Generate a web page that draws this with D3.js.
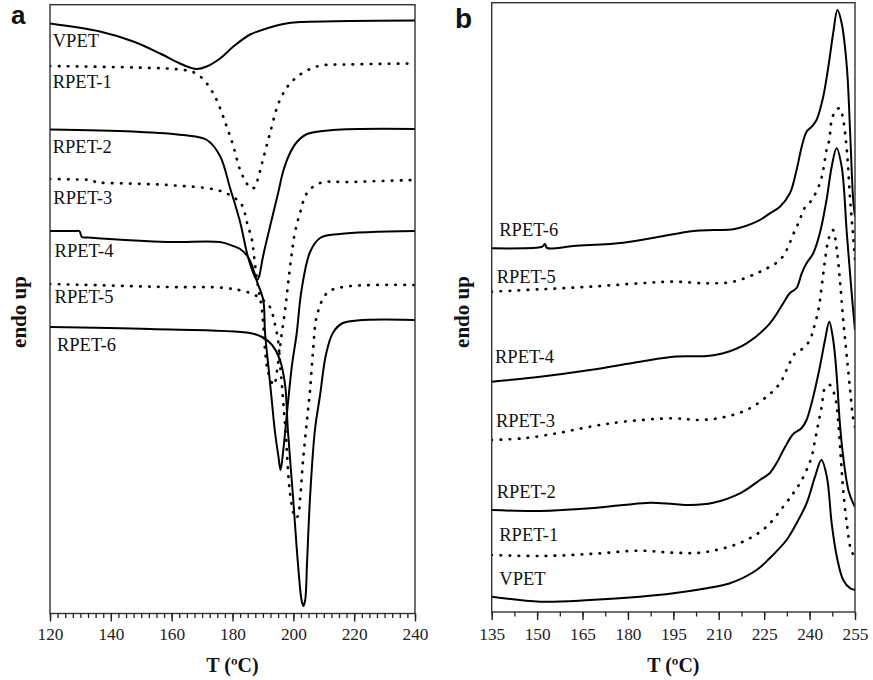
<!DOCTYPE html>
<html><head><meta charset="utf-8">
<script src="https://cdn.jsdelivr.net/npm/d3@7"></script>
<style>
html,body{margin:0;padding:0;background:#fff;}
svg{display:block;}
</style></head>
<body>
<script>
// ---------- DATA (T in °C, heat flow in arbitrary units, endo up) ----------
const seriesNames = ["VPET","RPET-1","RPET-2","RPET-3","RPET-4","RPET-5","RPET-6"];
const seriesDotted = [false,true,false,true,false,true,false];

// Panel a : cooling (crystallisation exotherms)
const a_VPET = [[120,59.0],[136.4,58.2],[147.4,57.2],[156.2,56.0],[162.7,55.0],[166.0,54.6],[168.3,54.45],[171.5,54.7],[175.9,55.5],[180.3,56.7],[185.8,57.9],[191.2,58.5],[196.7,58.95],[202.2,59.15],[218.6,59.25],[240,59.3]];
const a_RPET1 = [[120,54.75],[158.5,54.5],[164.1,54.35],[167.0,54.15],[170.0,53.55],[172.6,52.55],[174.8,51.35],[178.1,48.7],[180.3,46.7],[182.5,44.35],[184.7,43.0],[186.1,42.5],[187.4,42.65],[188.5,43.65],[190.0,45.35],[192.3,48.0],[195.6,51.35],[200.0,53.35],[207.7,54.7],[218.6,54.9],[240,55.0]];
const a_RPET2 = [[120,48.4],[147.3,48.2],[163.7,47.85],[171.6,47.35],[175.9,45.75],[179.2,42.55],[182.5,39.15],[185.1,35.65],[187.4,33.65],[188.1,33.35],[188.7,33.65],[190.0,35.65],[192.3,38.65],[195.0,42.05],[196.6,44.15],[198.6,45.85],[200.9,47.05],[204.5,47.95],[213.0,48.35],[240,48.45]];
const a_RPET3 = [[120,43.45],[132.0,43.38],[134.1,43.35],[135.1,43.1],[137.0,43.07],[158.5,42.85],[174.9,42.35],[180.2,41.65],[183.1,40.85],[184.8,39.05],[186.4,37.35],[187.1,35.65],[188.4,32.65],[189.7,30.35],[190.7,26.35],[191.7,24.15],[193.6,22.85],[194.9,24.85],[195.9,27.35],[197.3,30.35],[198.3,33.05],[199.5,36.05],[200.5,38.05],[202.2,40.05],[204.5,42.05],[208.8,43.05],[218.6,43.15],[240,43.35]];
const a_RPET4 = [[120,38.25],[128.0,38.25],[129.7,38.22],[130.5,37.65],[132.5,37.6],[158.5,37.15],[175.9,37.15],[180.2,36.75],[182.5,36.45],[185.1,35.65],[186.7,34.55],[188.1,33.15],[190.1,31.35],[190.7,28.05],[191.8,24.7],[192.9,21.35],[194.0,18.05],[195.1,15.7],[195.8,14.35],[196.7,16.35],[197.8,19.7],[199.5,24.7],[201.1,28.0],[202.7,32.35],[205.5,36.15],[208.8,37.55],[215.3,37.95],[240,38.25]];
const a_RPET5 = [[120,32.95],[158.5,32.65],[177.5,32.55],[185.8,32.05],[190.0,31.35],[192.3,30.65],[194.0,28.85],[195.1,27.05],[195.6,25.05],[196.2,23.05],[196.7,21.05],[197.3,18.85],[197.8,16.65],[198.3,14.05],[198.9,12.05],[200.0,10.05],[200.7,9.55],[201.5,9.75],[202.2,11.35],[203.2,15.35],[204.5,19.35],[205.5,22.35],[206.5,26.35],[207.8,29.85],[211.1,32.05],[216.3,32.65],[240,32.85]];
const a_RPET6 = [[120,28.65],[152.9,28.45],[185.8,28.05],[189.7,27.65],[193.0,26.85],[195.6,25.35],[197.3,22.85],[198.2,18.35],[199.9,11.65],[201.5,5.05],[202.7,1.35],[203.3,0.75],[203.9,1.35],[204.5,5.05],[205.5,11.65],[207.1,18.35],[208.8,21.85],[210.7,25.85],[213.0,28.05],[216.3,29.05],[240,29.35]];

// Panel b : heating (melting endotherms)
const b_VPET = [[135,1.53],[151.0,1.03],[167.5,1.2],[184.0,1.53],[195.0,1.87],[206.0,2.37],[213.7,2.87],[222.5,4.2],[226.9,5.4],[232.4,7.2],[235.7,8.87],[239.0,10.87],[241.8,13.53],[243.9,15.2],[245.7,13.53],[247.3,8.87],[249.0,5.53],[251.1,3.2],[253.4,2.37],[255,2.2]];
const b_RPET1 = [[135,5.7],[151.0,5.6],[167.5,5.8],[184.0,6.13],[195.0,5.93],[203.8,5.93],[211.5,6.37],[219.2,7.2],[225.8,8.53],[231.3,10.53],[234.6,11.87],[236.8,12.87],[239.0,14.2],[240.7,15.53],[241.8,17.2],[242.9,18.87],[244.0,20.53],[245.1,22.4],[246.7,22.7],[248.4,21.53],[249.5,18.87],[250.3,15.53],[251.1,12.2],[252.3,8.87],[253.4,6.53],[254.2,5.87],[255,5.6]];
const b_RPET2 = [[135,10.2],[151.0,10.1],[167.5,10.37],[178.5,10.7],[187.3,10.93],[195.0,10.8],[200.5,10.7],[208.2,10.93],[217.0,11.87],[223.6,13.2],[226.9,13.9],[229.1,14.9],[231.9,16.5],[234.6,17.8],[237.4,18.4],[239.0,19.2],[241.2,21.53],[243.4,24.53],[245.1,27.2],[246.5,29.03],[247.8,27.2],[248.9,23.87],[250.0,18.87],[251.1,15.53],[252.8,12.2],[254.4,10.87],[255,10.53]];
const b_RPET3 = [[135,17.2],[145.4,17.37],[156.5,17.87],[167.5,18.53],[178.5,19.03],[195.0,19.37],[203.8,19.2],[211.5,19.47],[219.2,20.2],[225.8,21.53],[230.2,22.87],[232.4,24.2],[235.2,25.87],[237.9,26.37],[240.1,27.2],[241.2,28.2],[242.9,30.2],[244.0,32.53],[245.1,35.2],[246.2,37.2],[247.7,38.2],[249.0,36.2],[250.1,32.87],[251.2,28.9],[252.3,25.53],[253.4,22.2],[254.3,19.53],[255,18.53]];
const b_RPET4 = [[135,23.03],[151.0,23.53],[167.5,24.2],[184.0,25.03],[195.0,25.53],[206.0,25.6],[211.5,25.87],[219.2,26.87],[226.9,28.87],[231.3,30.87],[233.5,31.9],[235.7,32.4],[237.4,33.87],[239.0,34.87],[241.2,35.87],[243.4,37.9],[245.6,41.2],[247.3,44.53],[248.9,46.37],[250.6,44.53],[252.3,37.87],[253.9,31.87],[255,28.2]];
const b_RPET5 = [[135,32.03],[151.0,32.27],[167.5,32.53],[184.0,32.87],[195.0,33.03],[206.0,32.87],[214.8,33.03],[222.5,33.87],[226.9,34.53],[230.2,35.2],[232.4,36.2],[235.2,38.2],[236.8,39.2],[237.9,40.2],[240.7,41.2],[243.4,42.87],[244.5,44.2],[245.6,46.2],[246.5,47.2],[247.3,49.2],[248.7,50.2],[250.0,50.37],[251.1,49.2],[252.3,46.2],[253.4,41.2],[254.3,37.9],[255,35.2]];
const b_RPET6 = [[135,36.37],[151.0,36.47],[152.0,36.6],[152.6,36.8],[153.3,36.4],[162.0,36.6],[178.5,36.93],[189.5,37.47],[201.6,38.1],[208.2,38.2],[214.8,38.27],[222.5,39.03],[226.9,39.87],[230.2,40.53],[233.5,41.87],[235.7,44.2],[237.4,46.53],[239.0,48.03],[240.7,48.53],[242.3,49.2],[244.5,51.53],[246.2,54.53],[247.8,57.9],[249.2,60.2],[250.6,58.87],[252.3,54.53],[253.4,47.9],[254.4,41.2],[255,39.53]];

// label anchor points (data units) for each series
const a_labelPos = [[120.9,56.7],[120.9,52.52],[120.9,46.02],[121.1,40.92],[121.5,35.68],[121.5,31.02],[122.3,26.28]];
const b_labelPos = [[137.5,2.7],[137.5,7.1],[136.65,11.37],[136.4,18.53],[136.1,24.93],[136.65,32.87],[137.5,37.6]];

const a_majorTicks = [120,140,160,180,200,220,240];
const b_majorTicks = [135,150,165,180,195,210,225,240,255];
const a_minorStep = 2.5, b_minorStep = 7.5;

const panelLetters = ["a","b"];
const xTitle = "T (ºC)";
const yTitle = "endo up";

// ---------- DRAWING ----------
const W = 873, H = 680;
const svg = d3.select("body").append("svg").attr("width", W).attr("height", H);
const serif = "'Liberation Serif','Times New Roman',Times,serif";
const sans = "'Liberation Sans',Arial,Helvetica,sans-serif";

function panel(cfg){
  const x = d3.scaleLinear().domain(cfg.xDomain).range([cfg.left, cfg.right]);
  const y = d3.scaleLinear().domain(cfg.yDomain).range([cfg.bottom, cfg.top]);
  const g = svg.append("g");
  const clipId = "clip-" + cfg.id;
  svg.append("defs").append("clipPath").attr("id", clipId)
    .append("rect").attr("x", cfg.left).attr("y", cfg.top)
    .attr("width", cfg.right - cfg.left).attr("height", cfg.bottom - cfg.top);

  const line = d3.line().x(d => x(d[0])).y(d => y(d[1])).curve(d3.curveCatmullRom.alpha(0.5));
  const lines = g.append("g").attr("clip-path", `url(#${clipId})`);
  cfg.series.forEach((s, i) => {
    const p = lines.append("path").attr("d", line(s))
      .attr("fill", "none").attr("stroke", "#000");
    if (seriesDotted[i]) {
      p.attr("stroke-width", 2.7).attr("stroke-dasharray", "0.5 8.5").attr("stroke-linecap", "round");
    } else {
      p.attr("stroke-width", 2).attr("stroke-linejoin", "round");
    }
  });

  // series labels
  cfg.labels.forEach((lp, i) => {
    g.append("text").attr("x", x(lp[0])).attr("y", y(lp[1]))
      .attr("font-family", serif).attr("font-size", 18.5).attr("fill", "#111")
      .text(seriesNames[i]);
  });

  // frame
  g.append("rect").attr("x", cfg.left).attr("y", cfg.top)
    .attr("width", cfg.right - cfg.left).attr("height", cfg.bottom - cfg.top)
    .attr("fill", "none").attr("stroke", "#333").attr("stroke-width", 1.4);

  // minor ticks
  const minor = d3.range(cfg.xDomain[0], cfg.xDomain[1] + 1e-6, cfg.minorStep);
  const minorAxis = g.append("g").attr("transform", `translate(0,${cfg.bottom})`)
    .call(d3.axisBottom(x).tickValues(minor).tickSize(4.5).tickFormat(""));
  minorAxis.select(".domain").remove();
  minorAxis.selectAll("line").attr("stroke", "#222").attr("stroke-width", 1.3);

  // major ticks
  const majorAxis = g.append("g").attr("transform", `translate(0,${cfg.bottom})`)
    .call(d3.axisBottom(x).tickValues(cfg.major).tickSize(8).tickFormat(d3.format("d")));
  majorAxis.select(".domain").remove();
  majorAxis.selectAll("line").attr("stroke", "#222").attr("stroke-width", 1.4);
  majorAxis.selectAll("text").attr("y", cfg.tickLabelY - cfg.bottom).attr("dy", null)
    .attr("font-family", serif).attr("font-size", 17.3).attr("fill", "#222");

  // axis titles
  g.append("text").attr("x", (cfg.left + cfg.right) / 2 + cfg.titleDx).attr("y", 672)
    .attr("text-anchor", "middle").attr("font-family", serif).attr("font-weight", "bold")
    .attr("font-size", 20).attr("fill", "#111").text(xTitle);
  g.append("text").attr("transform", `translate(${cfg.yTitleX},312) rotate(-90)`)
    .attr("text-anchor", "middle").attr("font-family", serif).attr("font-weight", "bold")
    .attr("font-size", 21).attr("fill", "#111").text(yTitle);

  // panel letter
  g.append("text").attr("x", cfg.letterX).attr("y", cfg.letterY)
    .attr("font-family", sans).attr("font-weight", "bold").attr("font-size", cfg.letterSize)
    .attr("fill", "#111").text(cfg.letter);
}

panel({
  id: "a", left: 50, right: 415, top: 4.7, bottom: 613.5,
  xDomain: [120, 240], yDomain: [0, 60.88],
  series: [a_VPET, a_RPET1, a_RPET2, a_RPET3, a_RPET4, a_RPET5, a_RPET6],
  labels: a_labelPos, major: a_majorTicks, minorStep: a_minorStep,
  tickLabelY: 640, titleDx: 0, yTitleX: 26, letter: panelLetters[0], letterX: 11, letterY: 23.5, letterSize: 26
});
panel({
  id: "b", left: 491.7, right: 855, top: 2.7, bottom: 612,
  xDomain: [135, 255], yDomain: [0, 60.93],
  series: [b_VPET, b_RPET1, b_RPET2, b_RPET3, b_RPET4, b_RPET5, b_RPET6],
  labels: b_labelPos, major: b_majorTicks, minorStep: b_minorStep,
  tickLabelY: 640, titleDx: 0, yTitleX: 469, letter: panelLetters[1], letterX: 455, letterY: 28, letterSize: 28
});
</script>
</body></html>
